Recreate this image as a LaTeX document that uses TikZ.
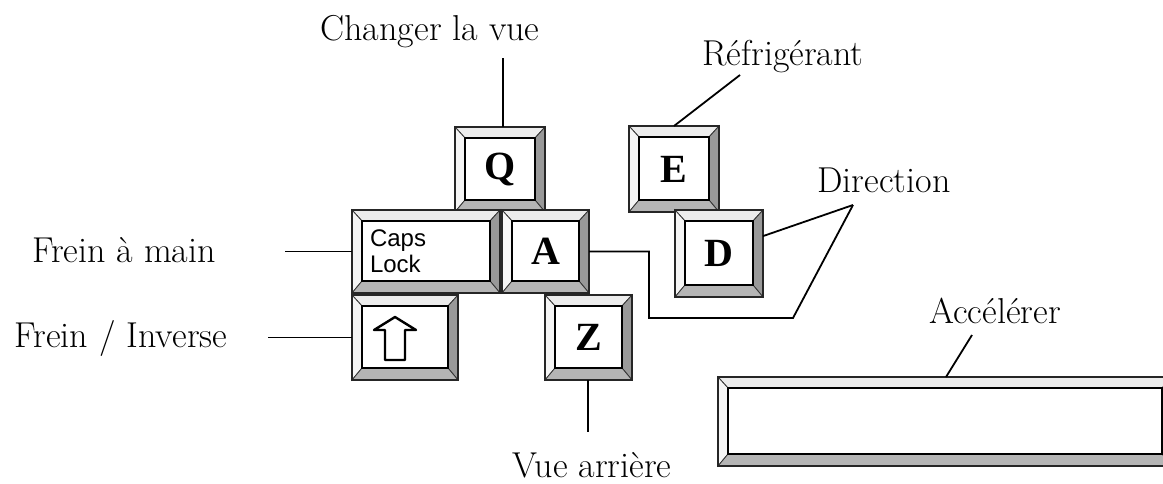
\documentclass[tikz,border=0pt]{standalone}
\usepackage{fontspec}
\newfontfamily\keyserif{Liberation Serif}
\newfontfamily\keysans{Liberation Sans}
\usetikzlibrary{calc}

\tikzset{
  lbl/.style={font=\fontsize{36}{42}\selectfont, inner sep=0pt, anchor=base},
  leader/.style={draw=black, line width=1.8pt},
  keyframe/.style={draw=black!85, line width=2.6pt, inner sep=0pt, outer sep=0pt,
    font=\keyserif\bfseries\fontsize{40}{40}\selectfont},
  bevtop/.style={fill=gray!15, draw=black!80, line width=0.8pt},
  bevleft/.style={fill=gray!8, draw=black!80, line width=0.8pt},
  bevright/.style={fill=gray!80, draw=black!80, line width=0.8pt},
  bevbottom/.style={fill=gray!58, draw=black!80, line width=0.8pt},
  keyface/.style={fill=white, draw=black, line width=1.3pt},
  arrowglyph/.style={draw=black, line width=2.4pt, line join=round},
}

% #1 node options, #2 name, #3 left, #4 top, #5 right, #6 bottom, #7 legend
\newcommand\keycap[7][]{%
  \path[bevtop] (#3,#4) -- (#5,#4) -- ({#5-10},{#4+11}) -- ({#3+10},{#4+11}) -- cycle;
  \path[bevleft] (#3,#4) -- ({#3+10},{#4+11}) -- ({#3+10},{#6-12}) -- (#3,#6) -- cycle;
  \path[bevright] (#5,#4) -- (#5,#6) -- ({#5-10},{#6-12}) -- ({#5-10},{#4+11}) -- cycle;
  \path[bevbottom] (#3,#6) -- (#5,#6) -- ({#5-10},{#6-12}) -- ({#3+10},{#6-12}) -- cycle;
  \path[keyface] ({#3+10},{#4+11}) rectangle ({#5-10},{#6-12});
  \node[keyframe, minimum width={(#5-#3)*1pt}, minimum height={(#6-#4)*1pt}, #1]
    (#2) at ({(#3+#5)/2},{(#4+#6)/2}) {#7};
}

\begin{document}
\begin{tikzpicture}[x=1pt, y=-1pt]
\useasboundingbox (0,0) rectangle (1163,483);

% keys
\keycap{Q}{455}{127}{545}{212}{Q}
\keycap{E}{629}{126}{719}{212}{E}
\keycap[font=\keysans\fontsize{24}{26}\selectfont, align=left, text width=112pt]
  {caps}{352}{210}{500}{293}{Caps\\Lock}
\keycap{A}{502}{210}{589}{293}{A}
\keycap{D}{675}{210}{763}{297}{D}
\keycap{shift}{352}{295}{458}{380}{}
\keycap{Z}{545}{295}{632}{380}{Z}
\keycap{space}{718}{377}{1172}{466}{}

% outlined arrow on the shift key
\draw[arrowglyph] ([shift={(-10,-20.5)}]shift.center) -- ++(21,13) -- ++(-11,0)
  -- ++(0,30) -- ++(-20,0) -- ++(0,-30) -- ++(-11,0) -- cycle;

% labels
\node[lbl] (lchg) at (430,40) {Changer la vue};
\node[lbl] (lref) at (783,65) {Réfrigérant};
\node[lbl] (ldir) at (884,192) {Direction};
\node[lbl] (lfm) at (124,262) {Frein à main};
\node[lbl] (lfi) at (121,347) {Frein / Inverse};
\node[lbl] (lva) at (592,477) {Vue arrière};
\node[lbl] (lacc) at (995,323) {Accélérer};

% leader ends next to the labels
\coordinate (cchg) at (503,58);
\coordinate (cref) at (740,75);
\coordinate (cdir) at (853,205);
\coordinate (cfm) at (285,0);
\coordinate (cfi) at (268,0);
\coordinate (cva) at (588,432);
\coordinate (cacc) at (972,335);
\coordinate (faccx) at (946,0);
\coordinate (abend) at (649,318);
\coordinate (dlow) at (793,318);

% leaders
\draw[leader] (cchg) -- (cchg |- Q.north);
\draw[leader] (cref) -- (E.north);
\draw[leader] (cdir) -- ($(D.north east)!0.3!(D.south east)$);
\draw[leader] (A.east) -- (A.east -| abend) -- (abend) -- (dlow) -- (cdir);
\draw[leader] (cfm |- caps.west) -- (caps.west);
\draw[leader] (cfi |- shift.west) -- (shift.west);
\draw[leader] (Z.south -| cva) -- (cva);
\draw[leader] (cacc) -- (faccx |- space.north);
\end{tikzpicture}
\end{document}
